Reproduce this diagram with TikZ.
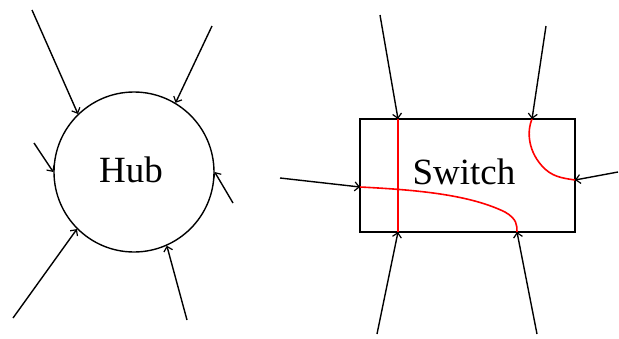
\documentclass[tikz,border=0pt]{standalone}
\usepackage{fontspec}
\setmainfont{Liberation Serif}
\usetikzlibrary{arrows.meta}
\begin{document}
\begin{tikzpicture}[x=1pt,y=-1pt,
  link/.style={draw=black,line width=1.4pt,-{Straight Barb[length=4.5pt,width=9pt,line width=1.2pt]}},
  path/.style={draw=red,line width=1.6pt},
  lbl/.style={font=\fontsize{37}{40}\selectfont}]
\useasboundingbox (0,0) rectangle (619,338);
% Hub
\node[draw,circle,line width=1.4pt,minimum size=160pt,inner sep=0pt] (hub) at (134,172) {};
\node[lbl] (hubt) at (131,170) {Hub};
\coordinate (h1) at (32,10);
\coordinate (h2) at (212,26);
\coordinate (h3) at (34,143);
\coordinate (h4) at (233,203);
\coordinate (h5) at (13,318);
\coordinate (h6) at (187,320);
\draw[link] (h1) -- (hub.134);
\draw[link] (h2) -- (hub.59);
\draw[link] (h3) -- (hub.180);
\draw[link] (h4) -- (hub.0);
\draw[link] (h5) -- (hub.225);
\draw[link] (h6) -- (hub.294);
% Switch
\node[draw,rectangle,line width=1.4pt,minimum width=215pt,minimum height=113pt,inner sep=0pt] (sw) at (467.5,175.5) {};
\node[lbl] (swt) at (464,172) {Switch};
\coordinate (s1) at (380,15);
\coordinate (s2) at (546,26);
\coordinate (s3) at (280,178);
\coordinate (s4) at (618,172);
\coordinate (s5) at (377,334);
\coordinate (s6) at (537,334);
\coordinate (t1) at (398,119);
\coordinate (t2) at (532,119);
\coordinate (t3) at (360,187);
\coordinate (t4) at (575,180);
\coordinate (t5) at (398,232);
\coordinate (t6) at (517,232);
\draw[path] (t1) -- (t5);
\draw[path] (t3) .. controls (420,190) and (470,195) .. (505,212) .. controls (517,219) and (517,225) .. (t6);
\draw[path] (t2) .. controls (528,128) and (526,148) .. (542,166) .. controls (552,177) and (562,178) .. (t4);
\draw[link] (s1) -- (t1);
\draw[link] (s2) -- (t2);
\draw[link] (s3) -- (t3);
\draw[link] (s4) -- (t4);
\draw[link] (s5) -- (t5);
\draw[link] (s6) -- (t6);
\end{tikzpicture}
\end{document}
